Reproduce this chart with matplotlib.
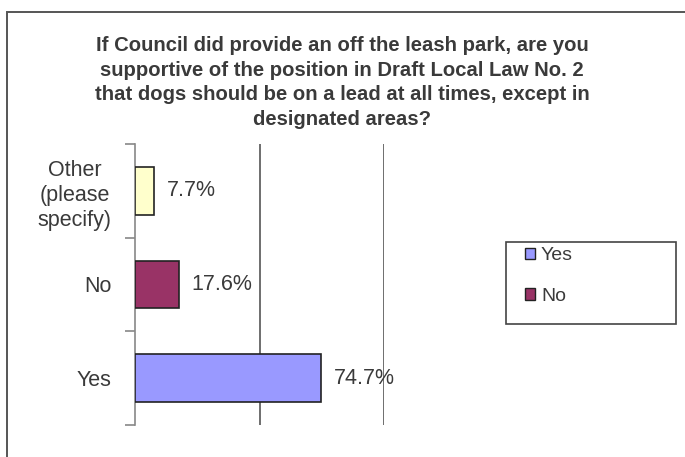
import matplotlib.pyplot as plt
from matplotlib.patches import Rectangle, Patch

categories = ['Yes', 'No', 'Other\n(please\nspecify)']
percent = [74.7, 17.6, 7.7]
bar_colors = ['#9999FF', '#993366', '#FFFFCC']
legend_labels = ['Yes', 'No']

title = ('If Council did provide an off the leash park, are you\n'
         'supportive of the position in Draft Local Law No. 2\n'
         'that dogs should be on a lead at all times, except in\n'
         'designated areas?')

plt.rcParams['font.family'] = ['Liberation Sans', 'DejaVu Sans']
txt_color = '#3a3a3a'

W, H = 685, 457
fig = plt.figure(figsize=(W / 100, H / 100), dpi=100)
fig.patch.set_facecolor('white')

# outer chart frame, runs off the right and bottom edges
fig.patches.append(Rectangle((7 / W, -0.1), 1.2, 1.1 - 12 / H,
                             transform=fig.transFigure, fill=False,
                             edgecolor='#555555', linewidth=1.4))

ax = fig.add_axes([135 / W, 1 - 425 / H, (384 - 135) / W, (425 - 144) / H])
ypos = list(range(len(categories)))
ax.barh(ypos, percent, height=0.51, color=bar_colors,
        edgecolor='#222222', linewidth=1.2, zorder=3)
for y, v in zip(ypos, percent):
    ax.text(v + 5, y, f'{v}%', va='center', ha='left',
            fontsize=15.5, color=txt_color, zorder=4)

ax.set_xlim(0, 100)
ax.set_ylim(-0.5, 2.5)
for gx in (50, 100):
    ax.axvline(gx, color='#555555', linewidth=1.2, zorder=1)

for side in ('top', 'bottom', 'right'):
    ax.spines[side].set_visible(False)
ax.spines['left'].set_color('#888888')
ax.spines['left'].set_linewidth(1.2)
ax.set_xticks([])
ax.set_yticks([-0.5, 0.5, 1.5, 2.5])
ax.set_yticklabels([])
ax.set_yticks(ypos, minor=True)
ax.set_yticklabels(categories, minor=True, fontsize=15.5, color=txt_color,
                   linespacing=1.27)
for lbl in ax.get_yticklabels(minor=True):
    lbl.set_multialignment('center')
ax.tick_params(axis='y', which='major', length=7, color='#888888', width=1.2)
ax.tick_params(axis='y', which='minor', length=0, pad=17)
ax.patch.set_alpha(0)

fig.text(342 / W, 1 - 36 / H, title, ha='center', va='top',
         fontsize=14.6, fontweight='bold', color=txt_color, linespacing=1.37)

# legend box
fig.patches.append(Rectangle((506 / W, 1 - 324 / H), 170 / W, 82 / H,
                             transform=fig.transFigure, fill=False,
                             edgecolor='#444444', linewidth=1.2))
handles = [Patch(facecolor=c, edgecolor='#222222', linewidth=1)
           for c in bar_colors[:len(legend_labels)]]
fig.legend(handles, legend_labels, loc='upper left',
           bbox_to_anchor=(507 / W, 1 - 230 / H), frameon=False,
           fontsize=14, handlelength=0.55, handleheight=0.55,
           handletextpad=0.3, labelspacing=1.2, labelcolor=txt_color)

fig.savefig('out.png', dpi=100)
